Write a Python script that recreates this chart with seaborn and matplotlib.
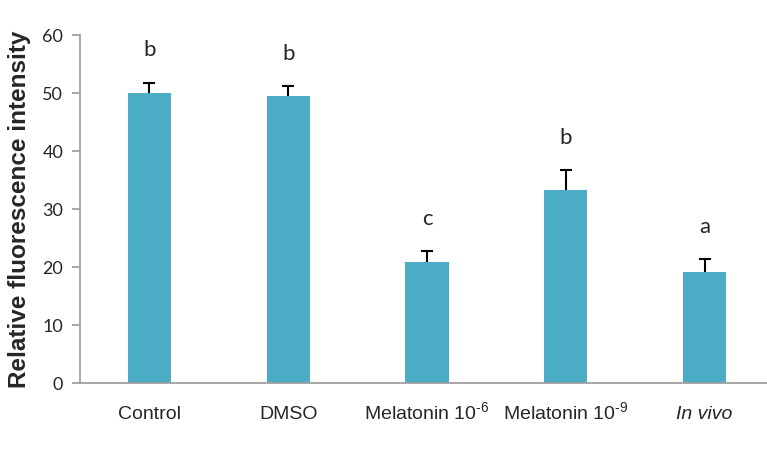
import numpy as np
import pandas as pd
import matplotlib
matplotlib.use('Agg')
import matplotlib.pyplot as plt
import seaborn as sns

sns.set_style("white")
plt.rcParams['font.family'] = ['Liberation Sans', 'DejaVu Sans']
plt.rcParams['mathtext.fontset'] = 'custom'
plt.rcParams['mathtext.rm'] = 'Liberation Sans'
plt.rcParams['mathtext.it'] = 'Liberation Sans:italic'

# ── Data ─────────────────────────────────────────────────────
groups = ['Control', 'DMSO', 'Melatonin 10$^{\\text{-6}}$',
          'Melatonin 10$^{\\text{-9}}$', 'In vivo']
means  = [50.0, 49.4, 20.9, 33.2, 19.2]
errors = [1.8, 1.8, 1.9, 3.5, 2.2]
letters = ['b', 'b', 'c', 'b', 'a']

df = pd.DataFrame({'group': groups, 'value': means})
bar_color = '#4BACC6'
axis_color = '#A0A0A0'

# ── Chart ────────────────────────────────────────────────────
fig = plt.figure(figsize=(7.67, 4.5), dpi=100)
ax = fig.add_axes([80 / 767, 67 / 450, 694 / 767, 348 / 450])

sns.barplot(data=df, x='group', y='value', color=bar_color, width=0.31,
            saturation=1, edgecolor='none', zorder=3, ax=ax)

# symmetric bars drawn behind the columns, so only the upper half shows
xpos = np.arange(len(groups))
ax.errorbar(xpos, means, yerr=errors, fmt='none', ecolor='black',
            elinewidth=1.5, capsize=4, capthick=1.5, zorder=2)

for x, m, e, lab in zip(xpos, means, errors, letters):
    ax.annotate(lab, xy=(x, m + e), xytext=(0, 16), textcoords='offset points',
                ha='center', va='bottom', fontsize=16, family=['Lato', 'DejaVu Sans'])

ax.set_xlim(-0.5, 4.5)
ax.set_ylim(0, 60)
ax.set_yticks(range(0, 61, 10))
ax.set_xlabel('')
ax.set_ylabel('Relative fluorescence intensity', fontsize=17.5, fontweight='bold')
ax.yaxis.set_label_coords(-0.07, 0.5)

for side in ['top', 'right']:
    ax.spines[side].set_visible(False)
for side in ['left', 'bottom']:
    ax.spines[side].set_color(axis_color)
    ax.spines[side].set_linewidth(1.3)
    ax.spines[side].set_zorder(4)

ax.tick_params(axis='y', length=6, width=1.3, color=axis_color, pad=6,
               labelsize=13, left=True)
ax.tick_params(axis='x', length=0, pad=26, labelsize=14)
for t in ax.get_yticklabels():
    t.set_family(['Lato', 'DejaVu Sans'])
for t in ax.get_xticklabels():
    t.set_va('baseline')
ax.get_xticklabels()[-1].set_fontstyle('italic')

plt.savefig('out.png', dpi=100)
plt.close()
